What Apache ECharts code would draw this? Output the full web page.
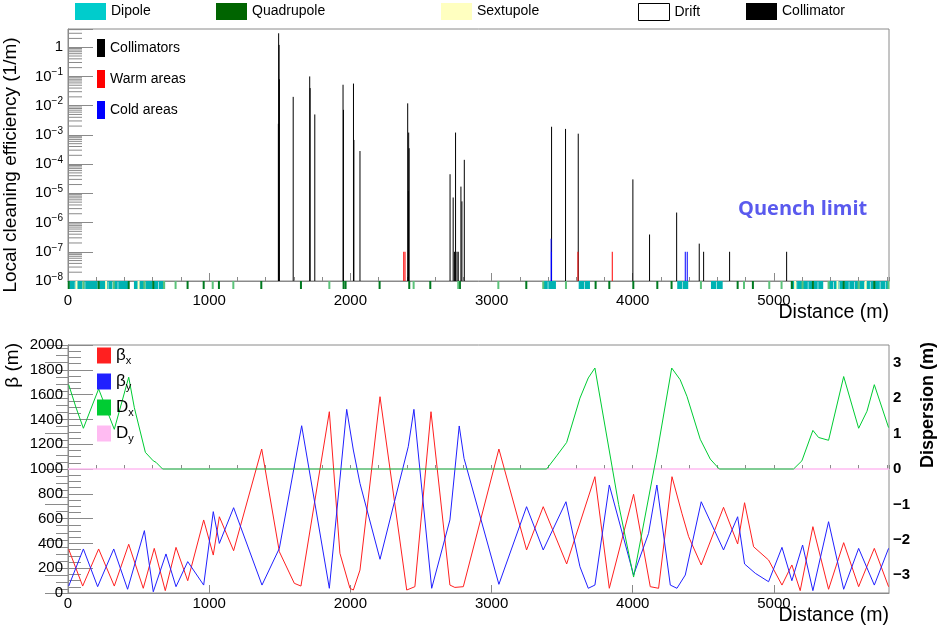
<!DOCTYPE html>
<html><head><meta charset="utf-8">
<script src="https://cdn.jsdelivr.net/npm/echarts@6/dist/echarts.min.js"></script>
<style>html,body{margin:0;padding:0;background:#fff}#c{width:941px;height:627px}</style>
</head><body><div id="c"></div>
<script>
// ---------- data ----------
const X_MAX = 5815;
const LOG_MIN = 1e-8, LOG_MAX = 4.2;
const quenchLimit = 3.5e-7;
const xTickLabels = [0, 1000, 2000, 3000, 4000, 5000];
const logMinorSteps = [2, 3, 4, 5, 6, 7, 8, 9];

// local cleaning efficiency: [distance (m), value (1/m)]
const collimators = [
  [1490, 0.0024], [1492, 3.0], [1495, 1.2], [1497, 0.08],
  [1595, 0.02], [1712, 0.1], [1715, 0.04], [1748, 0.005],
  [1948, 0.052], [1951, 0.0072], [2022, 0.057], [2025, 6.7e-4], [2068, 2.8e-4],
  [2406, 0.012], [2411, 1.2e-5], [2413, 1.2e-3], [2416, 3.5e-4],
  [2706, 4.5e-5], [2728, 7.2e-6], [2737, 1e-7], [2745, 1.2e-3], [2755, 1e-7],
  [2764, 1e-7], [2783, 1.7e-5], [2790, 5.3e-6], [2807, 1.4e-4],
  [3425, 1.9e-3], [3524, 1.6e-3], [3614, 1.1e-3],
  [4001, 3.0e-5], [4119, 3.9e-7], [4311, 2.2e-6], [4471, 1.9e-7],
  [4502, 1e-7], [4686, 1e-7], [5090, 1e-7]
];
const warmAreas = [[2378, 1e-7], [2387, 1e-7], [3612, 1e-7], [3855, 1e-7]];
const coldAreas = [[3422, 2.8e-7], [3424, 1e-7], [4372, 1e-7], [4386, 1e-7]];

// lattice elements
const dipoles = [
  [9,48],[52,100],[104,118],[122,210],[220,282],[286,312],[316,352],[356,425],
  [467,495],[499,540],[548,600],[606,640],[644,688],
  [3366,3398],[3402,3456],[3617,3656],[3660,3697],
  [4315,4352],[4356,4393],[4554,4592],[4596,4637],
  [5120,5160],[5164,5200],[5206,5240],[5244,5272],[5280,5310],[5314,5349],
  [5385,5420],[5424,5460],[5464,5490],[5498,5530],[5534,5570],[5574,5598],
  [5604,5640],[5644,5680],[5684,5708],[5714,5750],[5754,5790],[5794,5815]
];
const quadF = [5,217,430,604,847,961,1069,1369,1650,1952,1966,2207,2417,2566,2776,
  3246,3737,3834,4004,4174,4275,4743,4851,5127,5276,5494,5711];
const quadD = [109,324,541,680,762,1025,1171,1851,2448,2764,3048,3366,3527,
  4483,4788,4967,5054,5203,5387,5600,5812];
const sextupoles = [60, 270, 500, 5150, 5450, 5650];

// optics: [distance (m), value]
const betaX = [[5,352],[104,56],[217,355],[328,56],[430,393],[533,38],[611,360],[689,19],
  [765,368],[848,99],[961,589],[1029,306],[1072,615],[1173,341],[1372,1161],[1497,333],
  [1603,78],[1650,56],[1851,1462],[1926,320],[1997,38],[2021,24],[2068,185],[2210,1583],
  [2399,24],[2457,51],[2571,1462],[2705,64],[2740,45],[2800,51],[3052,1161],[3248,347],
  [3366,696],[3532,234],[3732,938],[3834,38],[4006,796],[4124,51],[4183,38],[4278,938],
  [4348,643],[4396,454],[4485,226],[4643,691],[4743,395],[4792,728],[4856,373],[4962,266],
  [5057,64],[5127,226],[5186,19],[5276,535],[5387,30],[5494,406],[5600,51],[5711,360],[5812,51]];
const betaY = [[5,56],[109,355],[210,51],[324,355],[422,30],[541,503],[604,10],[694,315],
  [765,51],[848,253],[961,64],[1029,656],[1072,400],[1173,688],[1374,64],[1497,360],
  [1655,1349],[1851,38],[1974,1481],[2021,1153],[2068,884],[2210,272],[2410,1180],
  [2450,1481],[2576,38],[2705,589],[2771,1347],[2805,1086],[3052,70],[3248,696],
  [3366,347],[3527,736],[3626,212],[3685,38],[3732,64],[3834,871],[4006,145],[4112,481],
  [4171,871],[4266,64],[4313,38],[4372,145],[4485,736],[4643,347],[4743,615],[4792,234],
  [4868,159],[4962,91],[5057,368],[5127,99],[5203,387],[5276,19],[5387,575],[5494,30],
  [5600,360],[5711,64],[5812,360]];
const dispX = [[5,2.38],[57,1.73],[109,1.15],[217,2.26],[328,1.12],[430,2.59],[470,1.73],
  [548,0.47],[604,0.23],[623,0.19],[670,0],[3390,0],[3461,0.37],[3532,0.75],[3626,2.0],
  [3685,2.57],[3732,2.85],[3900,-1.0],[4006,-3.05],[4171,0.42],[4276,2.85],[4336,2.52],
  [4384,2.05],[4478,0.84],[4549,0.28],[4613,0],[5139,0],[5198,0.23],[5276,1.09],
  [5316,0.89],[5387,0.81],[5494,2.61],[5600,1.15],[5659,1.63],[5711,2.38],[5812,1.17]];
const dispY = [[0,0],[X_MAX,0]];

// ---------- helpers ----------
const GREY = '#8a8a8a';
const FONT = '"Liberation Sans", Arial, sans-serif';

function vline(params, api) {
  const x = api.value(0);
  const p0 = api.coord([x, LOG_MIN]);
  const p1 = api.coord([x, api.value(1)]);
  return {type: 'line', shape: {x1: p0[0], y1: p0[1], x2: p1[0], y2: p1[1]},
    style: {stroke: api.visual('color'), lineWidth: 1}};
}
function boxItem(params, api) {
  const a = api.coord([api.value(0), 1]);
  const b = api.coord([api.value(1), 0]);
  return {type: 'rect', shape: {x: a[0], y: a[1], width: Math.max(b[0] - a[0], 1), height: b[1] - a[1]},
    style: {fill: api.visual('color')}};
}
function tickItem(params, api) {
  const a = api.coord([api.value(0), 1]);
  const b = api.coord([api.value(0), 0]);
  return {type: 'rect', shape: {x: a[0] - 1, y: a[1], width: 2, height: b[1] - a[1]},
    style: {fill: api.visual('color')}};
}
function logMinorItem(params, api) {
  const c = api.coord([0, api.value(0)]);
  return {type: 'line', shape: {x1: c[0], y1: c[1], x2: c[0] + 14, y2: c[1]},
    style: {stroke: GREY, lineWidth: 1}};
}
const logMinorValues = [];
for (let e = -8; e <= 0; e++) logMinorSteps.forEach(s => { const v = s * Math.pow(10, e); if (v < LOG_MAX) logMinorValues.push([v]); });

function xFmt(v) { return xTickLabels.indexOf(v) >= 0 ? String(v) : ''; }
function logFmt(v) {
  const e = Math.log10(v), r = Math.round(e);
  if (Math.abs(e - r) > 1e-6) return '';
  if (r === 0) return '1';
  return '{b|10}{s|' + (r < 0 ? '\u2212' + (-r) : r) + '}';
}
function dFmt(v) {
  if (Math.abs(v - Math.round(v)) > 1e-6) return '';
  const r = Math.round(v);
  return r < 0 ? '\u2212' + (-r) : String(r);
}

function mainX(grid, margin) {
  return {type: 'value', gridIndex: grid, min: 0, max: X_MAX, interval: 1000, position: 'bottom',
    axisLine: {lineStyle: {color: GREY}}, splitLine: {show: false},
    axisTick: {inside: true, length: 8, lineStyle: {color: GREY}},
    axisLabel: {margin: margin, fontSize: 15, color: '#000', fontFamily: FONT, formatter: xFmt, showMaxLabel: false}};
}
function minorX(grid) {
  return {type: 'value', gridIndex: grid, min: 0, max: X_MAX, interval: 200, position: 'bottom',
    axisLine: {show: false}, splitLine: {show: false}, axisLabel: {show: false},
    axisTick: {inside: true, length: 4, lineStyle: {color: GREY}}};
}

function topLegend(name, left, itemStyle) {
  return {left: left, top: 3, padding: 0, itemWidth: 31, itemHeight: 17, selectedMode: false,
    textStyle: {fontSize: 14, color: '#000', fontFamily: FONT},
    data: [{name: name, icon: 'rect', itemStyle: itemStyle}]};
}

const option = {
  animation: false,
  backgroundColor: '#fff',
  textStyle: {fontFamily: FONT},
  grid: [
    {left: 68, top: 29, width: 821, height: 252, show: true, borderColor: GREY, borderWidth: 1},
    {left: 68, top: 281, width: 821, height: 8},
    {left: 68, top: 345, width: 821, height: 248, show: true, borderColor: GREY, borderWidth: 1}
  ],
  xAxis: [
    mainX(0, 12), minorX(0),
    {type: 'value', gridIndex: 1, min: 0, max: X_MAX, show: false},
    mainX(2, 3), minorX(2)
  ],
  yAxis: [
    {type: 'log', logBase: 10, gridIndex: 0, min: LOG_MIN, max: LOG_MAX, splitNumber: 9,
      axisLine: {lineStyle: {color: GREY}}, splitLine: {show: false},
      axisTick: {inside: true, length: 25, lineStyle: {color: GREY}},
      axisLabel: {margin: 5, fontSize: 15, color: '#000', formatter: logFmt,
        rich: {b: {fontSize: 15, color: '#000', fontFamily: FONT},
               s: {fontSize: 10, color: '#000', fontFamily: FONT, padding: [0, 0, 8, 0]}}}},
    {type: 'value', gridIndex: 1, min: 0, max: 1, show: false},
    {type: 'value', gridIndex: 2, min: 0, max: 2000, interval: 200,
      axisLine: {lineStyle: {color: GREY}}, splitLine: {show: false},
      axisTick: {inside: true, length: 25, lineStyle: {color: GREY}},
      minorTick: {show: true, splitNumber: 4, length: 13, lineStyle: {color: GREY}},
      axisLabel: {margin: 5, fontSize: 15, color: '#000', formatter: v => String(v)}},
    {type: 'value', gridIndex: 2, position: 'right', min: -3.5, max: 3.5, splitNumber: 7,
      axisLine: {lineStyle: {color: GREY}}, splitLine: {show: false},
      axisTick: {inside: true, length: 23, lineStyle: {color: GREY}},
      minorTick: {show: true, splitNumber: 5, length: 12, lineStyle: {color: GREY}},
      axisLabel: {margin: 4, fontSize: 15, fontWeight: 'bold', color: '#000', formatter: dFmt}}
  ],
  legend: [
    topLegend('Dipole', 75, {color: '#00cccc'}),
    topLegend('Quadrupole', 216, {color: '#006400'}),
    topLegend('Sextupole', 441, {color: '#ffffc0'}),
    topLegend('Drift', 638, {color: '#ffffff', borderColor: '#000', borderWidth: 1}),
    topLegend('Collimator', 746, {color: '#000'}),
    {left: 97, top: 39, padding: 0, orient: 'vertical', itemWidth: 8, itemHeight: 18, itemGap: 13, selectedMode: false,
      textStyle: {fontSize: 14, color: '#000', fontFamily: FONT},
      data: [{name: 'Collimators', icon: 'rect', itemStyle: {color: '#000'}},
             {name: 'Warm areas', icon: 'rect', itemStyle: {color: '#ff0000'}},
             {name: 'Cold areas', icon: 'rect', itemStyle: {color: '#0000ff'}}]},
    {left: 97, top: 347, padding: 0, orient: 'vertical', itemWidth: 14, itemHeight: 16, itemGap: 7, selectedMode: false,
      formatter: n => '{m|' + n[0] + '}{s|' + n.slice(1) + '}',
      textStyle: {color: '#000', fontFamily: FONT,
        rich: {m: {fontSize: 17, color: '#000'}, s: {fontSize: 11, color: '#000', padding: [10, 0, 0, 0]}}},
      data: [{name: 'βx', icon: 'rect', itemStyle: {color: '#ff2020'}},
             {name: 'βy', icon: 'rect', itemStyle: {color: '#2020ff'}},
             {name: 'Dx', icon: 'rect', itemStyle: {color: '#00cc33'}},
             {name: 'Dy', icon: 'rect', itemStyle: {color: '#ffbbf2'}}]}
  ],
  graphic: [
    {type: 'text', x: 11, y: 165, rotation: Math.PI / 2,
      style: {text: 'Local cleaning efficiency (1/m)', font: '19px ' + FONT, fill: '#000', align: 'center', verticalAlign: 'middle'}},
    {type: 'text', x: 889, y: 313,
      style: {text: 'Distance (m)', font: '19.5px ' + FONT, fill: '#000', align: 'right', verticalAlign: 'middle'}},
    {type: 'text', x: 889, y: 616,
      style: {text: 'Distance (m)', font: '19.5px ' + FONT, fill: '#000', align: 'right', verticalAlign: 'middle'}},
    {type: 'text', x: 12.5, y: 343, rotation: Math.PI / 2,
      style: {text: 'β (m)', font: '19px ' + FONT, fill: '#000', align: 'right', verticalAlign: 'middle'}},
    {type: 'text', x: 928.5, y: 405, rotation: Math.PI / 2,
      style: {text: 'Dispersion (m)', font: 'bold 18px ' + FONT, fill: '#000', align: 'center', verticalAlign: 'middle'}},
    {type: 'text', x: 738, y: 209,
      style: {text: 'Quench limit', font: 'bold 20px "Open Sans", ' + FONT, fill: '#5a5aee', align: 'left', verticalAlign: 'middle'}}
  ],
  series: [
    // log-axis minor ticks (axis decoration)
    {type: 'custom', name: '_logMinor', xAxisIndex: 0, yAxisIndex: 0, silent: true, encode: {y: 0},
      data: logMinorValues, renderItem: logMinorItem},
    {type: 'custom', name: 'Collimators', xAxisIndex: 0, yAxisIndex: 0, encode: {x: 0, y: 1},
      itemStyle: {color: '#000'}, data: collimators, renderItem: vline,
      markLine: {silent: true, symbol: 'none', label: {show: false},
        lineStyle: {color: '#5a5aee', type: [10, 5], width: 1}, data: [{yAxis: quenchLimit}]}},
    {type: 'custom', name: 'Warm areas', xAxisIndex: 0, yAxisIndex: 0, encode: {x: 0, y: 1},
      itemStyle: {color: '#ff0000'}, data: warmAreas, renderItem: vline},
    {type: 'custom', name: 'Cold areas', xAxisIndex: 0, yAxisIndex: 0, encode: {x: 0, y: 1},
      itemStyle: {color: '#0000ff'}, data: coldAreas, renderItem: vline},
    // lattice strip
    {type: 'custom', name: 'Dipole', xAxisIndex: 2, yAxisIndex: 1, encode: {x: [0, 1]},
      itemStyle: {color: '#00b2b2'}, data: dipoles, renderItem: boxItem},
    {type: 'custom', name: 'Sextupole', xAxisIndex: 2, yAxisIndex: 1, encode: {x: 0},
      itemStyle: {color: '#ffffc0'}, data: sextupoles.map(d => [d]), renderItem: tickItem},
    {type: 'custom', name: 'Quadrupole', xAxisIndex: 2, yAxisIndex: 1, encode: {x: 0},
      itemStyle: {color: '#007a20'}, data: quadF.map(d => [d]), renderItem: tickItem},
    {type: 'custom', name: 'Quadrupole', xAxisIndex: 2, yAxisIndex: 1, encode: {x: 0},
      itemStyle: {color: '#5cc27a'}, data: quadD.map(d => [d]), renderItem: tickItem},
    {type: 'custom', name: 'Drift', xAxisIndex: 2, yAxisIndex: 1, itemStyle: {color: '#fff'}, data: [], renderItem: () => null},
    {type: 'custom', name: 'Collimator', xAxisIndex: 2, yAxisIndex: 1, itemStyle: {color: '#000'}, data: [], renderItem: () => null},
    // optics
    {type: 'line', name: 'Dy', xAxisIndex: 3, yAxisIndex: 3, data: dispY, showSymbol: false,
      lineStyle: {color: '#ffbbf2', width: 1.5}, itemStyle: {color: '#ffbbf2'}},
    {type: 'line', name: 'βx', xAxisIndex: 3, yAxisIndex: 2, data: betaX, showSymbol: false,
      lineStyle: {color: '#ff2020', width: 1}, itemStyle: {color: '#ff2020'}},
    {type: 'line', name: 'βy', xAxisIndex: 3, yAxisIndex: 2, data: betaY, showSymbol: false,
      lineStyle: {color: '#2020ff', width: 1}, itemStyle: {color: '#2020ff'}},
    {type: 'line', name: 'Dx', xAxisIndex: 3, yAxisIndex: 3, data: dispX, showSymbol: false,
      lineStyle: {color: '#00cc33', width: 1}, itemStyle: {color: '#00cc33'}}
  ]
};
const chart = echarts.init(document.getElementById('c'), null, {renderer: 'canvas'});
chart.setOption(option);
</script></body></html>
